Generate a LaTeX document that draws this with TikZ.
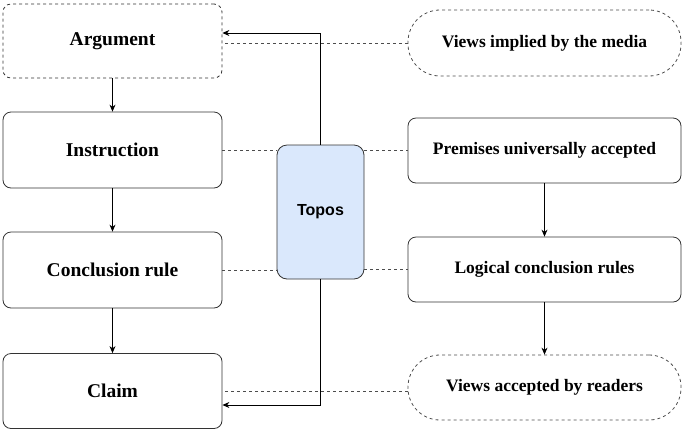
\documentclass[tikz,border=0pt]{standalone}
\usepackage{fontspec}
\setmainfont{Liberation Serif}
\newfontfamily\sansf{Liberation Sans}
\usetikzlibrary{arrows.meta}
\definecolor{toposfill}{HTML}{DAE8FC}
\begin{document}
\begin{tikzpicture}[x=1pt,y=-1pt,
  box/.style={draw=black!80,line width=0.8pt,rounded corners=8pt,font=\fontsize{19.5}{23}\selectfont\bfseries},
  dbox/.style={box,dashed},
  pill/.style={draw=black!70,line width=0.8pt,dashed,rounded corners=32pt,font=\fontsize{17.5}{21}\selectfont\bfseries},
  rbox/.style={box,font=\fontsize{17.5}{21}\selectfont\bfseries},
  arr/.style={-{Stealth[length=7pt,width=6pt]},line width=0.8pt},
  dl/.style={dashed,line width=0.6pt,draw=black!70}]
\useasboundingbox (0,0) rectangle (685,432);
\node[dbox,minimum width=219pt,minimum height=74pt] (arg) at (112.5,41) {Argument};
\node[box,minimum width=219pt,minimum height=76pt] (ins) at (112.5,150) {Instruction};
\node[box,minimum width=219pt,minimum height=76pt] (con) at (112.5,270) {Conclusion rule};
\node[box,minimum width=219pt,minimum height=75pt] (cla) at (112.5,391) {Claim};
\node[draw=black!80,line width=0.8pt,fill=toposfill,rounded corners=10pt,minimum width=87pt,minimum height=134pt,font=\sansf\fontsize{16}{19}\selectfont\bfseries] (top) at (320.5,212) {Topos};
\node[pill,minimum width=273pt,minimum height=66pt] (vim) at (544.5,43) {Views implied by the media};
\node[rbox,minimum width=273pt,minimum height=65pt] (pre) at (544.5,150.5) {Premises universally accepted};
\node[rbox,minimum width=273pt,minimum height=65pt] (log) at (544.5,269.5) {Logical conclusion rules};
\node[pill,minimum width=273pt,minimum height=65pt] (vac) at (544.5,387.5) {Views accepted by readers};
\coordinate (tt) at (320.5,33);
\coordinate (tb) at (320.5,405);
\draw[dl] (vim.west) -- (arg.east |- vim.west);
\draw[dl] (vac.west |- cla.east) -- (cla.east);
\draw[arr] (arg) -- (ins);
\draw[arr] (ins) -- (con);
\draw[arr] (con) -- (cla);
\draw[arr] (pre) -- (log);
\draw[arr] (log) -- (vac);
\draw[arr] (top.north) -- (tt) -- (arg.east |- tt);
\draw[arr] (top.south) -- (tb) -- (cla.east |- tb);
\draw[dl] (ins.east) -- (top.west |- ins.east);
\draw[dl] (top.east |- pre.west) -- (pre.west);
\draw[dl] (con.east) -- (top.west |- con.east);
\draw[dl] (top.east |- log.west) -- (log.west);
\end{tikzpicture}
\end{document}
